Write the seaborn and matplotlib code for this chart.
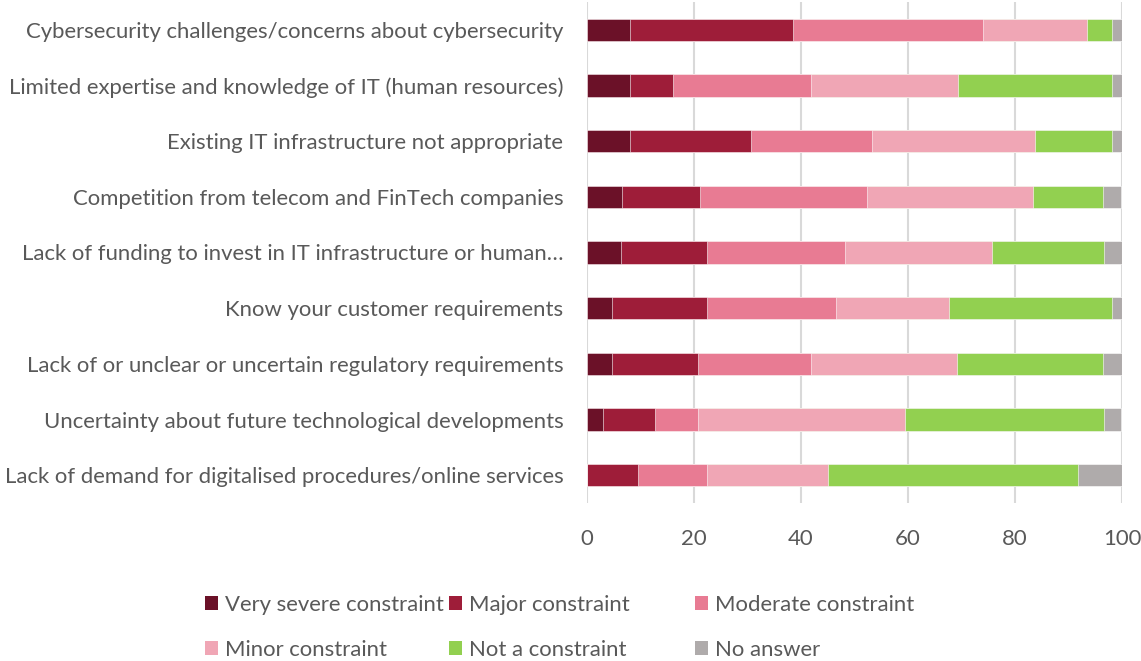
import matplotlib
matplotlib.use("Agg")
import matplotlib.pyplot as plt
from matplotlib.patches import Patch
import seaborn as sns
import pandas as pd
import numpy as np

categories = [
    "Cybersecurity challenges/concerns about cybersecurity",
    "Limited expertise and knowledge of IT (human resources)",
    "Existing IT infrastructure not appropriate",
    "Competition from telecom and FinTech companies",
    "Lack of funding to invest in IT infrastructure or human…",
    "Know your customer requirements",
    "Lack of or unclear or uncertain regulatory requirements",
    "Uncertainty about future technological developments",
    "Lack of demand for digitalised procedures/online services",
]
series_names = ["Very severe constraint", "Major constraint", "Moderate constraint",
                "Minor constraint", "Not a constraint", "No answer"]
very_severe = [8.0, 8.0, 8.0, 6.5, 6.4, 4.7, 4.7, 2.9, 0.0]
major = [30.5, 8.0, 22.6, 14.7, 16.0, 17.7, 16.0, 9.8, 9.5]
moderate = [35.6, 25.8, 22.6, 31.1, 25.9, 24.2, 21.1, 8.1, 12.9]
minor = [19.3, 27.5, 30.6, 31.1, 27.4, 21.0, 27.3, 38.7, 22.7]
not_constraint = [4.8, 28.9, 14.4, 13.0, 21.0, 30.5, 27.4, 37.1, 46.7]
no_answer = [1.8, 1.8, 1.8, 3.5, 3.3, 1.9, 3.5, 3.3, 8.2]
colors = ["#6B1128", "#9E1D39", "#E87B93", "#F0A6B5", "#92D050", "#AFABAB"]
x_ticks = [0, 20, 40, 60, 80, 100]

sns.set_theme(style="white")
plt.rcParams["font.family"] = ["Lato", "DejaVu Sans"]
text_color = "#595959"
fs = 15.9

df = pd.DataFrame({"category": categories})
vals = [very_severe, major, moderate, minor, not_constraint, no_answer]
cum = np.cumsum(np.array(vals), axis=0)

fig = plt.figure(figsize=(11.41, 6.61), dpi=100)
ax = fig.add_axes([587 / 1141, 1 - 503 / 661, 535 / 1141, 501 / 661])

for i in range(len(series_names) - 1, -1, -1):
    d = df.copy()
    d["value"] = cum[i]
    sns.barplot(data=d, x="value", y="category", color=colors[i], orient="h",
                width=0.40, ax=ax, saturation=1, edgecolor="white", linewidth=0.4,
                zorder=3)

ax.set_xlim(0, 100)
ax.set_ylim(len(categories) - 0.5, -0.5)
ax.set_xticks(x_ticks)
ax.set_xlabel("")
ax.set_ylabel("")
for s in ax.spines.values():
    s.set_visible(False)
ax.grid(axis="x", color="#D9D9D9", linewidth=1.5, zorder=0)
ax.grid(axis="y", visible=False)
ax.set_axisbelow(True)
ax.tick_params(axis="both", length=0, labelsize=fs, colors=text_color)
ax.tick_params(axis="x", pad=18.5)
ax.tick_params(axis="y", pad=17)

cols = [(0, 3), (1, 4), (2, 5)]
xs = [205 / 1141, 449 / 1141, 695 / 1141]
for (a, b), xp in zip(cols, xs):
    handles = [Patch(facecolor=colors[a], edgecolor="none"),
               Patch(facecolor=colors[b], edgecolor="none")]
    leg = fig.legend(handles, [series_names[a], series_names[b]],
                     loc="center left", bbox_to_anchor=(xp, 1 - 627.5 / 661),
                     frameon=False, fontsize=fs, borderpad=0, borderaxespad=0,
                     handlelength=0.6, handleheight=0.6, handletextpad=0.32,
                     labelspacing=1.12)
    for t in leg.get_texts():
        t.set_color(text_color)

fig.savefig("out.png", dpi=100)
